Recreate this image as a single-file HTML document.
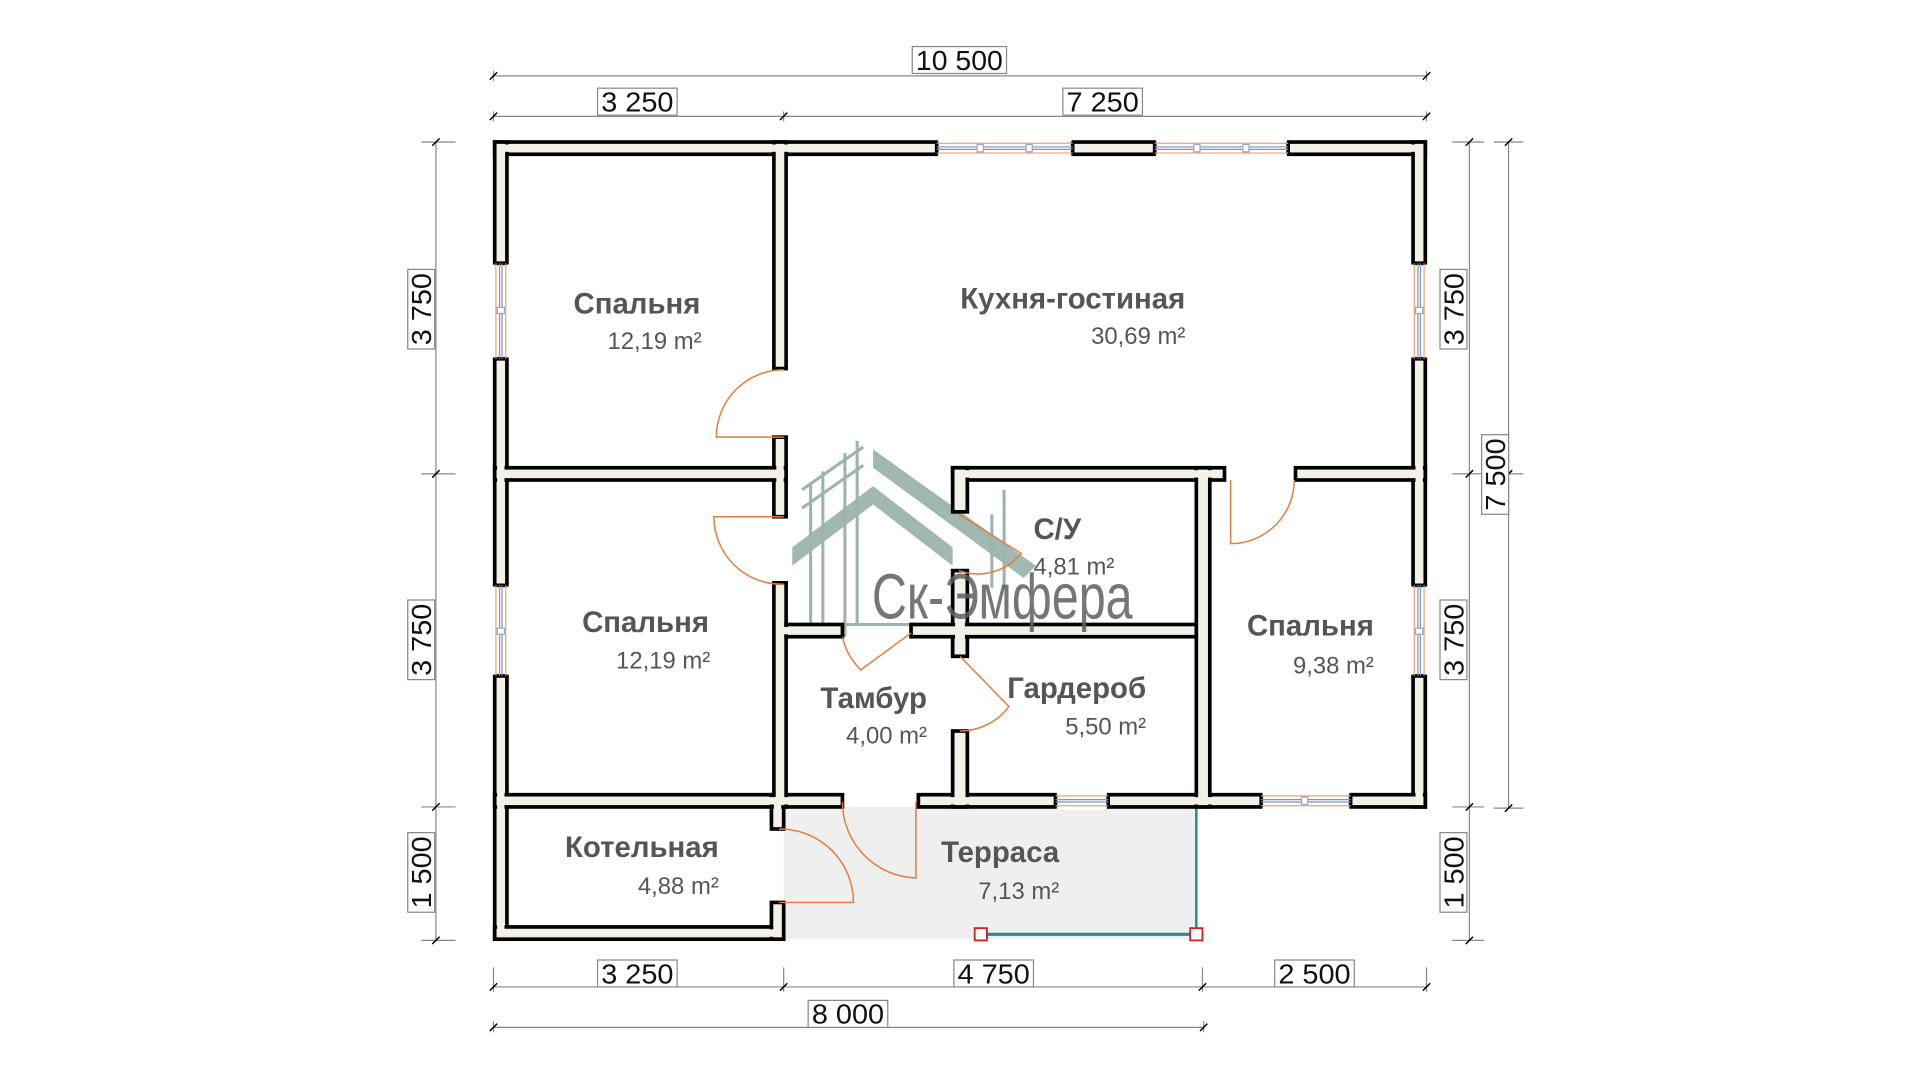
<!DOCTYPE html>
<html><head><meta charset="utf-8"><style>
html,body{margin:0;padding:0;background:#fff;}
svg{display:block}
.lb{font-family:"Liberation Sans",sans-serif;font-weight:bold;font-size:24px;fill:#555}
.ar{font-family:"Liberation Sans",sans-serif;font-size:19.5px;fill:#555}
.dm{font-family:"Liberation Sans",sans-serif;font-size:23px;fill:#111}
</style></head><body>
<svg width="1920" height="1080" viewBox="0 0 1568 882" preserveAspectRatio="none" xmlns="http://www.w3.org/2000/svg">
<rect width="1568" height="882" fill="#fff"/>
<rect x="640" y="659" width="337" height="108" fill="#efefef"/>
<line x1="977" y1="659" x2="977" y2="763" stroke="#2a8a8a" stroke-width="2"/>
<line x1="801" y1="763" x2="977" y2="763" stroke="#2a8a8a" stroke-width="2.5"/>
<rect x="796" y="758" width="10" height="10" fill="#fff" stroke="#c22" stroke-width="1.5"/>
<rect x="972" y="758" width="10" height="10" fill="#fff" stroke="#c22" stroke-width="1.5"/>

<g fill="#9bb5ad" opacity="0.95">
<polygon points="713,367 713,382 836,472 846,462"/>
<polygon points="647,447 713,397 778,447 778,462 713,412 647,462"/>
</g>
<g stroke="#9bb5ad" stroke-width="2.5" fill="none">
<line x1="662" y1="395" x2="662" y2="510"/><line x1="672" y1="385" x2="672" y2="510"/>
<line x1="690" y1="370" x2="690" y2="520"/><line x1="700" y1="360" x2="700" y2="510"/>
<line x1="655" y1="400" x2="705" y2="365"/><line x1="655" y1="415" x2="705" y2="380"/>
<line x1="810" y1="420" x2="810" y2="480"/><line x1="820" y1="400" x2="820" y2="480"/>
<line x1="648" y1="510" x2="925" y2="510"/>
</g>

<g fill="#f3f0e8" stroke="#000" stroke-width="3">
<rect x="404" y="116" width="760" height="10"/>
<rect x="404" y="116" width="10" height="651"/>
<rect x="1154" y="116" width="10" height="543"/>
<rect x="404" y="757" width="236" height="10"/>
<rect x="750" y="649" width="414" height="10"/>
<rect x="404" y="649" width="284" height="10"/>
<rect x="630" y="649" width="10" height="28"/>
<rect x="630" y="737" width="10" height="30"/>
<rect x="632" y="116" width="10" height="185"/>
<rect x="632" y="357" width="10" height="65"/>
<rect x="632" y="476" width="10" height="183"/>
<rect x="404" y="382" width="238" height="10"/>
<rect x="778" y="382" width="222" height="10"/>
<rect x="1058" y="382" width="106" height="10"/>
<rect x="778" y="382" width="12" height="36"/>
<rect x="778" y="466" width="12" height="70"/>
<rect x="778" y="597" width="12" height="62"/>
<rect x="642" y="510" width="46" height="10"/>
<rect x="744" y="510" width="233" height="10"/>
<rect x="977" y="382" width="11" height="277"/>
</g>
<g fill="#f3f0e8">
<rect x="406" y="118" width="6" height="647"/>
<rect x="406" y="118" width="756" height="6"/>
<rect x="1156" y="118" width="6" height="539"/>
<rect x="406" y="759" width="232" height="6"/>
<rect x="752" y="651" width="410" height="6"/>
<rect x="406" y="651" width="280" height="6"/>
<rect x="632" y="651" width="6" height="24"/>
<rect x="632" y="739" width="6" height="26"/>
<rect x="634" y="118" width="6" height="181"/>
<rect x="634" y="359" width="6" height="61"/>
<rect x="634" y="478" width="6" height="179"/>
<rect x="406" y="384" width="234" height="6"/>
<rect x="780" y="384" width="218" height="6"/>
<rect x="1060" y="384" width="100" height="6"/>
<rect x="780" y="384" width="8" height="32"/>
<rect x="780" y="468" width="8" height="66"/>
<rect x="780" y="599" width="8" height="58"/>
<rect x="640" y="512" width="46" height="6"/>
<rect x="746" y="512" width="229" height="6"/>
<rect x="979" y="384" width="7" height="273"/>
</g>

<!-- windows: cover strokes -->
<g fill="#fff">
<rect x="766" y="114" width="109" height="14"/>
<rect x="944" y="114" width="107" height="14"/>
<rect x="863" y="647" width="41" height="14"/>
<rect x="1031" y="647" width="71" height="14"/>
<rect x="402" y="216" width="14" height="76"/>
<rect x="402" y="479" width="14" height="72"/>
<rect x="1152" y="216" width="14" height="76"/>
<rect x="1152" y="479" width="14" height="72"/>
</g>
<!-- end caps -->
<g stroke="#000" stroke-width="3">
<path d="M765 116V126M876 116V126M943 116V126M1052 116V126M862 649V659M905 649V659M1030 649V659M1103 649V659"/>
<path d="M404 215H414M404 293H414M404 478H414M404 552H414M1154 215H1164M1154 293H1164M1154 478H1164M1154 552H1164"/>
</g>
<g stroke="#f0a070" stroke-width="1">
<path d="M765 117H876M765 125H876M943 117H1052M943 125H1052M862 650H905M862 658H905M1030 650H1103M1030 658H1103"/>
<path d="M405 215V293M413 215V293M405 478V552M413 478V552M1155 215V293M1163 215V293M1155 478V552M1163 478V552"/>
</g>
<g stroke="#8090c0" stroke-width="1">
<path d="M765 120H876M765 122H876M943 120H1052M943 122H1052M862 653H905M862 655H905M1030 653H1103M1030 655H1103"/>
<path d="M408 215V293M410 215V293M408 478V552M410 478V552M1158 215V293M1160 215V293M1158 478V552M1160 478V552"/>
</g>
<g fill="#fff" stroke="#9aa8d0" stroke-width="1">
<rect x="798" y="118" width="5" height="6"/><rect x="838" y="118" width="5" height="6"/>
<rect x="975" y="118" width="5" height="6"/><rect x="1015" y="118" width="5" height="6"/>
<rect x="1063" y="651" width="5" height="6"/>
<rect x="406" y="251" width="6" height="5"/><rect x="406" y="513" width="6" height="5"/>
<rect x="1156" y="251" width="6" height="5"/><rect x="1156" y="513" width="6" height="5"/>
</g>

<g fill="none" stroke="#e8793a" stroke-width="1.2">
<path d="M640 302A55 55 0 0 0 585 357H640"/>
<path d="M640 422H583A55 55 0 0 0 640 477"/>
<path d="M783 420L834 452A46 46 0 0 1 783 466"/>
<path d="M1005 392V444A52 52 0 0 0 1057 392"/>
<path d="M744 517L703 547A52 52 0 0 1 688 520"/>
<path d="M784 536L824 577A50 50 0 0 1 784 597"/>
<path d="M688 655A62 62 0 0 0 748 717V655"/>
<path d="M636 677A60 60 0 0 1 697 737H636"/>
</g>

<text x="712" y="505" font-family="Liberation Sans Narrow, Liberation Sans, sans-serif" font-size="52" fill="#5f5f5f" opacity="0.85" textLength="213" lengthAdjust="spacingAndGlyphs">Ск-Эмфера</text>

<text class="lb" x="572" y="256" text-anchor="end">Спальня</text>
<text class="ar" x="573" y="285" text-anchor="end">12,19 m²</text>
<text class="lb" x="968" y="252" text-anchor="end">Кухня-гостиная</text>
<text class="ar" x="968" y="281" text-anchor="end">30,69 m²</text>
<text class="lb" x="579" y="516" text-anchor="end">Спальня</text>
<text class="ar" x="580" y="546" text-anchor="end">12,19 m²</text>
<text class="lb" x="844" y="440">С/У</text>
<text class="ar" x="844" y="469">4,81 m²</text>
<text class="lb" x="757" y="578" text-anchor="end">Тамбур</text>
<text class="ar" x="757" y="607" text-anchor="end">4,00 m²</text>
<text class="lb" x="936" y="570" text-anchor="end">Гардероб</text>
<text class="ar" x="936" y="600" text-anchor="end">5,50 m²</text>
<text class="lb" x="1122" y="519" text-anchor="end">Спальня</text>
<text class="ar" x="1122" y="550" text-anchor="end">9,38 m²</text>
<text class="lb" x="587" y="700" text-anchor="end">Котельная</text>
<text class="ar" x="587" y="730" text-anchor="end">4,88 m²</text>
<text class="lb" x="865" y="704" text-anchor="end">Терраса</text>
<text class="ar" x="865" y="734" text-anchor="end">7,13 m²</text>

<g stroke="#888" stroke-width="1" fill="none">
<path d="M403 62H1165M403 95H1165"/>
<path d="M356 116V768M1200 116V768M1232 116V660"/>
<path d="M403 806H1165M403 839H983"/>
<path d="M403 58V66M1165 58V66M403 91V99M640 91V99M1165 91V99"/>
<path d="M344 116H372M344 387H372M344 659H372M344 768H372"/>
<path d="M1186 116H1212M1186 387H1212M1186 659H1212M1186 768H1212"/>
<path d="M1220 116H1244M1220 387H1244M1220 660H1244"/>
<path d="M403 790V810M640 790V810M982 790V810M1165 790V810M403 834V843M983 834V843"/>
</g>
<g stroke="#000" stroke-width="1.2">
<path d="M400 65L406 59M400 98L406 92M637 98L643 92M1162 65L1168 59M1162 98L1168 92"/>
<path d="M353 119L359 113M353 390L359 384M353 662L359 656M353 771L359 765"/>
<path d="M1197 119L1203 113M1197 390L1203 384M1197 662L1203 656M1197 771L1203 765"/>
<path d="M1229 119L1235 113M1229 390L1235 384M1229 663L1235 657"/>
<path d="M400 809L406 803M637 809L643 803M979 809L985 803M1162 809L1168 803M400 842L406 836M980 842L986 836"/>
</g>
<g fill="#fff" stroke="#888" stroke-width="1">
<rect x="745" y="38" width="77" height="22"/>
<rect x="488" y="72" width="65" height="22"/>
<rect x="868" y="72" width="65" height="22"/>
<rect x="488" y="784" width="65" height="22"/>
<rect x="779" y="784" width="65" height="22"/>
<rect x="1041" y="784" width="65" height="22"/>
<rect x="660" y="817" width="65" height="22"/>
<rect x="333" y="220" width="22" height="65"/>
<rect x="333" y="490" width="22" height="65"/>
<rect x="333" y="680" width="22" height="65"/>
<rect x="1176" y="220" width="22" height="65"/>
<rect x="1176" y="490" width="22" height="65"/>
<rect x="1176" y="680" width="22" height="65"/>
<rect x="1210" y="355" width="22" height="65"/>
</g>
<g class="dm" text-anchor="middle">
<text class="dm" x="783.5" y="57" textLength="71" lengthAdjust="spacingAndGlyphs">10 500</text>
<text class="dm" x="520.5" y="91" textLength="59" lengthAdjust="spacingAndGlyphs">3 250</text>
<text class="dm" x="900.5" y="91" textLength="59" lengthAdjust="spacingAndGlyphs">7 250</text>
<text class="dm" x="520.5" y="803" textLength="59" lengthAdjust="spacingAndGlyphs">3 250</text>
<text class="dm" x="811.5" y="803" textLength="59" lengthAdjust="spacingAndGlyphs">4 750</text>
<text class="dm" x="1073.5" y="803" textLength="59" lengthAdjust="spacingAndGlyphs">2 500</text>
<text class="dm" x="692.5" y="836" textLength="59" lengthAdjust="spacingAndGlyphs">8 000</text>
<text class="dm" transform="translate(352 252.5) rotate(-90)" textLength="59" lengthAdjust="spacingAndGlyphs">3 750</text>
<text class="dm" transform="translate(352 522.5) rotate(-90)" textLength="59" lengthAdjust="spacingAndGlyphs">3 750</text>
<text class="dm" transform="translate(352 712.5) rotate(-90)" textLength="59" lengthAdjust="spacingAndGlyphs">1 500</text>
<text class="dm" transform="translate(1195 252.5) rotate(-90)" textLength="59" lengthAdjust="spacingAndGlyphs">3 750</text>
<text class="dm" transform="translate(1195 522.5) rotate(-90)" textLength="59" lengthAdjust="spacingAndGlyphs">3 750</text>
<text class="dm" transform="translate(1195 712.5) rotate(-90)" textLength="59" lengthAdjust="spacingAndGlyphs">1 500</text>
<text class="dm" transform="translate(1229 387.5) rotate(-90)" textLength="59" lengthAdjust="spacingAndGlyphs">7 500</text>
</g>
</svg>
</body></html>
